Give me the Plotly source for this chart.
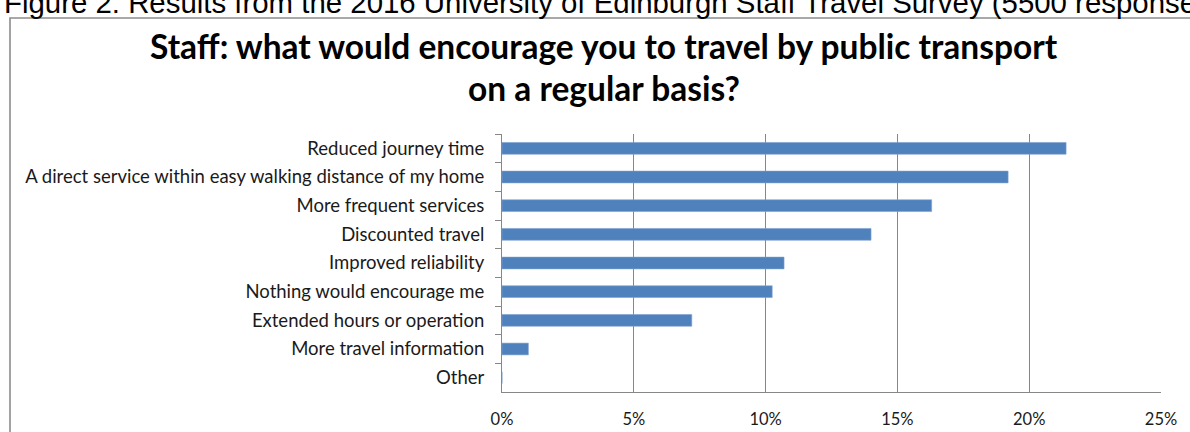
import plotly.graph_objects as go

# ---- data ----
categories = [
    "Reduced journey time",
    "A direct service within easy walking distance of my home",
    "More frequent services",
    "Discounted travel",
    "Improved reliability",
    "Nothing would encourage me",
    "Extended hours or operation",
    "More travel information",
    "Other",
]
values = [21.4, 19.2, 16.3, 14.0, 10.7, 10.25, 7.2, 1.0, 0.0]
x_tick_values = [0, 5, 10, 15, 20, 25]
x_tick_labels = ["0%", "5%", "10%", "15%", "20%", "25%"]
title_lines = [
    "Staff: what would encourage you to travel by public transport",
    "on a regular basis?",
]
caption = "Figure 2: Results from the 2016 University of Edinburgh Staff Travel Survey (5500 responses)"

# ---- layout geometry (pixels) ----
W, H = 1190, 432
PL, PR, PT, PB = 502, 1161, 134, 392  # plot area edges
pw, ph = PR - PL, PB - PT


def px_x(x):
    return (x - PL) / pw


def px_y(y):
    return (PB - y) / ph


GRID = "#878787"
LABEL_FONT = "Lato"

fig = go.Figure(
    go.Bar(
        x=values,
        y=categories,
        orientation="h",
        marker=dict(color="#4F81BD", line=dict(color="#7FA1CF", width=0.6)),
        hoverinfo="x+y",
    )
)

fig.update_layout(
    width=W,
    height=H,
    margin=dict(l=PL, r=W - PR, t=PT, b=H - PB, autoexpand=False),
    paper_bgcolor="white",
    plot_bgcolor="white",
    showlegend=False,
    bargap=0.59,
    font=dict(family=LABEL_FONT, color="#000000"),
)

fig.update_xaxes(
    range=[0, 25],
    tickmode="array",
    tickvals=x_tick_values,
    ticktext=x_tick_labels,
    showgrid=True,
    gridcolor=GRID,
    gridwidth=1,
    showline=True,
    linecolor=GRID,
    linewidth=1,
    zeroline=False,
    ticks="",
    ticklabelstandoff=12,
    tickfont=dict(family=LABEL_FONT, size=16.5, color="#1a1a1a"),
)

fig.update_yaxes(
    type="category",
    categoryorder="array",
    categoryarray=categories,
    autorange="reversed",
    showgrid=False,
    showline=True,
    linecolor=GRID,
    linewidth=1,
    ticks="outside",
    tickson="boundaries",
    ticklen=6,
    tickcolor=GRID,
    tickwidth=1,
    ticklabelstandoff=13,
    tickfont=dict(family=LABEL_FONT, size=18.5, color="#1a1a1a"),
)

# chart border (outer frame of the embedded chart)
fig.add_shape(
    type="rect",
    xref="paper",
    yref="paper",
    x0=px_x(10),
    x1=px_x(1205),
    y0=px_y(445),
    y1=px_y(18),
    line=dict(color="#8c8c8c", width=1.6),
    fillcolor="rgba(0,0,0,0)",
    layer="below",
)

# title lines
fig.add_annotation(
    text="<b>%s</b>" % title_lines[0],
    xref="paper", yref="paper",
    x=px_x(604), y=px_y(46),
    xanchor="center", yanchor="middle",
    showarrow=False,
    font=dict(family=LABEL_FONT, size=33.5, color="#000000"),
)
fig.add_annotation(
    text="<b>%s</b>" % title_lines[1],
    xref="paper", yref="paper",
    x=px_x(604), y=px_y(88),
    xanchor="center", yanchor="middle",
    showarrow=False,
    font=dict(family=LABEL_FONT, size=33.5, color="#000000"),
)

# caption above the chart (clipped at the top of the page)
fig.add_annotation(
    text=caption,
    xref="paper", yref="paper",
    x=px_x(2), y=px_y(2),
    xanchor="left", yanchor="middle",
    showarrow=False,
    font=dict(family="Liberation Sans", size=29.4, color="#000000"),
)

fig.write_html(
    "out.html",
    config={"displayModeBar": False},
    post_script="document.body.style.margin='0';document.body.style.padding='0';",
)
